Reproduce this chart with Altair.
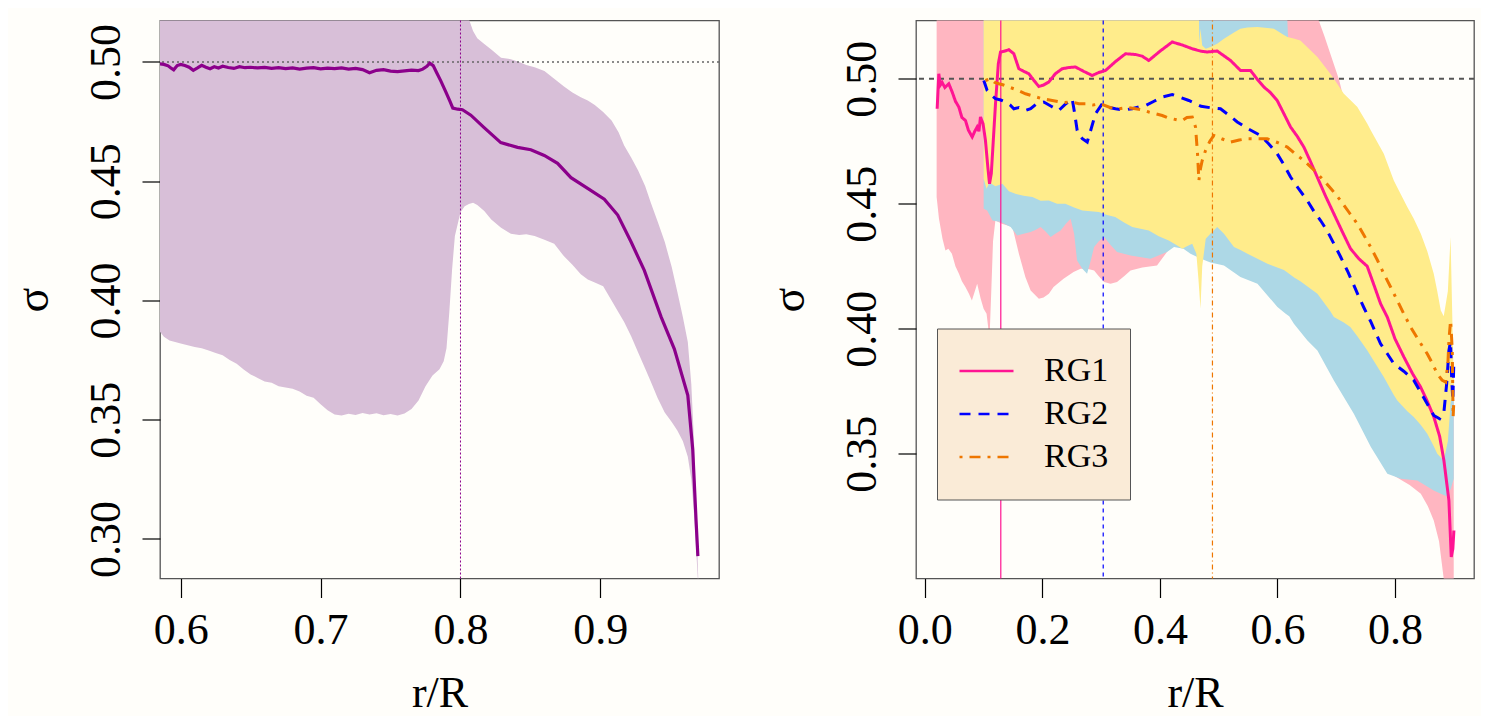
import altair as alt
import pandas as pd

FONT = "Liberation Serif"

# ---------------- left panel data ----------------
L_LINE = [
    (0.585, 0.4992), (0.588, 0.4990), (0.591, 0.4984), (0.593, 0.4975), (0.595, 0.4967),
    (0.5975, 0.4985), (0.600, 0.4990), (0.603, 0.4985), (0.606, 0.4978), (0.609, 0.4965),
    (0.612, 0.4975),
    (0.615, 0.4986), (0.618, 0.4978), (0.621, 0.4972), (0.624, 0.4980), (0.627, 0.4975),
    (0.630, 0.4982), (0.634, 0.4977), (0.638, 0.4973), (0.642, 0.4980), (0.646, 0.4976),
    (0.650, 0.4978), (0.655, 0.4975), (0.660, 0.4977), (0.665, 0.4973), (0.670, 0.4976),
    (0.675, 0.4972), (0.680, 0.4975), (0.685, 0.4970), (0.690, 0.4974), (0.695, 0.4976),
    (0.700, 0.4971), (0.705, 0.4974), (0.710, 0.4972), (0.715, 0.4975), (0.720, 0.4970),
    (0.725, 0.4973), (0.730, 0.4968), (0.735, 0.4955), (0.740, 0.4965), (0.745, 0.4968),
    (0.750, 0.4962), (0.755, 0.4960), (0.760, 0.4963), (0.765, 0.4966), (0.770, 0.4964),
    (0.773, 0.4970), (0.776, 0.4982), (0.778, 0.4995), (0.7805, 0.4985), (0.783, 0.4955),
    (0.786, 0.4920), (0.7895, 0.4875), (0.7925, 0.4835), (0.7945, 0.4807), (0.798, 0.4802),
    (0.8014, 0.4800), (0.8074, 0.4777), (0.8169, 0.4725), (0.8288, 0.4662), (0.8408, 0.4642),
    (0.8503, 0.4632), (0.8599, 0.4608), (0.8694, 0.4575), (0.8790, 0.4515), (0.8909, 0.4470),
    (0.9028, 0.4425), (0.9124, 0.4358), (0.9219, 0.4246), (0.9314, 0.4126), (0.9434, 0.3931),
    (0.9529, 0.3796), (0.9625, 0.3602), (0.9660, 0.3377), (0.9684, 0.3078), (0.9697, 0.2928),
]

# (x, lower, upper)
L_BAND = [
    (0.585, 0.3870, 0.525), (0.588, 0.3848, 0.525), (0.592, 0.3832, 0.525), (0.596, 0.3826, 0.525),
    (0.600, 0.3820, 0.525), (0.605, 0.3812, 0.525), (0.610, 0.3805, 0.525), (0.615, 0.3800, 0.525),
    (0.620, 0.3790, 0.525), (0.625, 0.3780, 0.525), (0.630, 0.3770, 0.525), (0.635, 0.3750, 0.525),
    (0.640, 0.3735, 0.525), (0.645, 0.3710, 0.525), (0.650, 0.3690, 0.525), (0.655, 0.3675, 0.525),
    (0.660, 0.3660, 0.525), (0.665, 0.3655, 0.525), (0.670, 0.3640, 0.525), (0.675, 0.3635, 0.525),
    (0.680, 0.3630, 0.525), (0.685, 0.3618, 0.525), (0.690, 0.3600, 0.525), (0.695, 0.3592, 0.525),
    (0.700, 0.3565, 0.525), (0.705, 0.3540, 0.525), (0.710, 0.3522, 0.525), (0.715, 0.3518, 0.525),
    (0.720, 0.3525, 0.525), (0.725, 0.3520, 0.525), (0.730, 0.3528, 0.525), (0.735, 0.3522, 0.525),
    (0.740, 0.3527, 0.525), (0.745, 0.3519, 0.525), (0.750, 0.3524, 0.525), (0.755, 0.3518, 0.525),
    (0.760, 0.3526, 0.525), (0.765, 0.3545, 0.525), (0.770, 0.3580, 0.525), (0.775, 0.3640, 0.525),
    (0.780, 0.3685, 0.525), (0.785, 0.3712, 0.525), (0.788, 0.3745, 0.525), (0.790, 0.3800, 0.525),
    (0.792, 0.3950, 0.525), (0.794, 0.4130, 0.525), (0.796, 0.4270, 0.525), (0.800, 0.4370, 0.525),
    (0.803, 0.4395, 0.525), (0.806, 0.4405, 0.5180), (0.809, 0.4410, 0.5130), (0.812, 0.4400, 0.5100),
    (0.817, 0.4375, 0.5075), (0.822, 0.4340, 0.5052), (0.829, 0.4305, 0.5018), (0.836, 0.4280, 0.5012),
    (0.842, 0.4275, 0.5000), (0.847, 0.4278, 0.4987), (0.853, 0.4270, 0.4978), (0.860, 0.4255, 0.4962),
    (0.867, 0.4238, 0.4930), (0.874, 0.4185, 0.4897), (0.880, 0.4150, 0.4872), (0.886, 0.4110, 0.4852),
    (0.891, 0.4088, 0.4838), (0.896, 0.4075, 0.4820), (0.902, 0.4060, 0.4790), (0.908, 0.4000, 0.4755),
    (0.913, 0.3950, 0.4705), (0.917, 0.3910, 0.4650), (0.922, 0.3850, 0.4600), (0.927, 0.3782, 0.4545),
    (0.932, 0.3715, 0.4480), (0.936, 0.3660, 0.4411), (0.941, 0.3590, 0.4330), (0.946, 0.3530, 0.4246),
    (0.951, 0.3490, 0.4140), (0.955, 0.3455, 0.4036), (0.959, 0.3410, 0.3930), (0.9625, 0.3345, 0.3826),
    (0.965, 0.3250, 0.3650), (0.967, 0.3100, 0.3400), (0.9685, 0.2950, 0.3100), (0.970, 0.2800, 0.2830),
]
L_REF_X = [0.8]
REF_Y = [0.5]

# ---------------- right panel data ----------------
SERIES = ["RG1", "RG2", "RG3"]
LINE_COLORS = ["#FF1493", "#0000FF", "#EE7600"]
BAND_COLORS = ["#FFB6C1", "#ADD8E6", "#FFEC8B"]
DASHES = [[1, 0], [11, 8], [3, 7, 11, 7]]
R_REF_X = [0.1292, 0.3035, 0.4894]
REF_DASHES = [[1, 0], [4, 4], [1, 3, 5, 3]]

RG1_LINE = [
    (0.0209, 0.4880), (0.0237, 0.5020), (0.0265, 0.4975), (0.0294, 0.4985), (0.0340, 0.4965),
    (0.0407, 0.4980), (0.0465, 0.4947), (0.0520, 0.4910), (0.0578, 0.4887), (0.0630, 0.4845),
    (0.0691, 0.4833), (0.0740, 0.4795), (0.0805, 0.4767), (0.0850, 0.4790), (0.0890, 0.4807),
    (0.0920, 0.4790), (0.0946, 0.4847), (0.0990, 0.4820), (0.1031, 0.4753), (0.1070, 0.4650),
    (0.1100, 0.4580), (0.1130, 0.4620), (0.1156, 0.4720), (0.1202, 0.4900), (0.1250, 0.5060),
    (0.1287, 0.5107), (0.1350, 0.5110), (0.1429, 0.5116), (0.1514, 0.5100), (0.1599, 0.5040),
    (0.1680, 0.5030), (0.1769, 0.5020), (0.1850, 0.4995), (0.1939, 0.4969), (0.2020, 0.4975),
    (0.2109, 0.4987), (0.2220, 0.5020), (0.2337, 0.5040), (0.2450, 0.5045), (0.2563, 0.5047),
    (0.2700, 0.5030), (0.2848, 0.5013), (0.2960, 0.5025), (0.3074, 0.5033), (0.3250, 0.5070),
    (0.3415, 0.5100), (0.3585, 0.5097), (0.3700, 0.5090), (0.3811, 0.5073), (0.4000, 0.5110),
    (0.4209, 0.5147), (0.4380, 0.5135), (0.4550, 0.5120), (0.4700, 0.5110), (0.4805, 0.5107),
    (0.4975, 0.5111), (0.5100, 0.5090), (0.5202, 0.5073), (0.5372, 0.5033), (0.5542, 0.5033),
    (0.5650, 0.5000), (0.5769, 0.4967), (0.5880, 0.4945), (0.5996, 0.4913), (0.6110, 0.4860),
    (0.6223, 0.4807), (0.6336, 0.4770), (0.6449, 0.4727), (0.6560, 0.4670), (0.6677, 0.4607),
    (0.6820, 0.4530), (0.6960, 0.4460), (0.7100, 0.4390), (0.7244, 0.4320), (0.7386, 0.4280),
    (0.7528, 0.4250), (0.7650, 0.4170), (0.7755, 0.4100), (0.7869, 0.4047), (0.8000, 0.3960),
    (0.8152, 0.3887), (0.8300, 0.3820), (0.8436, 0.3767), (0.8550, 0.3710), (0.8662, 0.3647),
    (0.8760, 0.3570), (0.8833, 0.3473), (0.8918, 0.3313), (0.8958, 0.3087), (0.8985, 0.3120),
    (0.9003, 0.3193),
]

RG2_LINE = [
    (0.1003, 0.4993), (0.1060, 0.4953), (0.1130, 0.4935), (0.1202, 0.4920), (0.1290, 0.4915),
    (0.1372, 0.4907), (0.1450, 0.4895), (0.1514, 0.4880), (0.1600, 0.4885), (0.1712, 0.4873),
    (0.1800, 0.4880), (0.1900, 0.4900), (0.2024, 0.4907), (0.2150, 0.4890), (0.2279, 0.4873),
    (0.2400, 0.4900), (0.2507, 0.4920), (0.2550, 0.4860), (0.2592, 0.4793), (0.2680, 0.4760),
    (0.2763, 0.4747), (0.2830, 0.4800), (0.2904, 0.4860), (0.3018, 0.4900), (0.3130, 0.4885),
    (0.3244, 0.4880), (0.3380, 0.4875), (0.3529, 0.4880), (0.3650, 0.4888), (0.3755, 0.4893),
    (0.3900, 0.4910), (0.4039, 0.4927), (0.4209, 0.4937), (0.4350, 0.4925), (0.4492, 0.4913),
    (0.4700, 0.4890), (0.4860, 0.4884), (0.5031, 0.4880), (0.5170, 0.4855), (0.5316, 0.4827),
    (0.5500, 0.4800), (0.5712, 0.4773), (0.5850, 0.4740), (0.5996, 0.4700), (0.6100, 0.4660),
    (0.6223, 0.4607), (0.6360, 0.4560), (0.6507, 0.4513), (0.6620, 0.4470), (0.6734, 0.4433),
    (0.6850, 0.4390), (0.6960, 0.4340), (0.7070, 0.4290), (0.7188, 0.4233), (0.7290, 0.4180),
    (0.7386, 0.4127), (0.7480, 0.4080), (0.7585, 0.4030), (0.7660, 0.3990), (0.7755, 0.3940),
    (0.7870, 0.3900), (0.7981, 0.3860), (0.8150, 0.3830), (0.8322, 0.3793), (0.8500, 0.3720),
    (0.8662, 0.3653), (0.8760, 0.3640), (0.8833, 0.3667), (0.8880, 0.3780), (0.8918, 0.3913),
    (0.8946, 0.3950), (0.8965, 0.3800), (0.8985, 0.3713), (0.9000, 0.3850),
]

RG3_LINE = [
    (0.1031, 0.4993), (0.1117, 0.5000), (0.1190, 0.4985), (0.1259, 0.4980), (0.1340, 0.4975),
    (0.1429, 0.4967), (0.1570, 0.4955), (0.1712, 0.4940), (0.1850, 0.4930), (0.1997, 0.4920),
    (0.2167, 0.4913), (0.2340, 0.4905), (0.2507, 0.4907), (0.2620, 0.4900), (0.2734, 0.4900),
    (0.2860, 0.4895), (0.2989, 0.4900), (0.3150, 0.4885), (0.3300, 0.4880), (0.3450, 0.4885),
    (0.3585, 0.4880), (0.3700, 0.4875), (0.3811, 0.4867), (0.3930, 0.4860), (0.4039, 0.4853),
    (0.4120, 0.4845), (0.4209, 0.4840), (0.4300, 0.4835), (0.4380, 0.4833), (0.4460, 0.4845),
    (0.4550, 0.4847), (0.4606, 0.4807), (0.4640, 0.4700), (0.4663, 0.4593), (0.4690, 0.4640),
    (0.4720, 0.4673), (0.4776, 0.4713), (0.4850, 0.4750), (0.4918, 0.4773), (0.5050, 0.4760),
    (0.5202, 0.4747), (0.5350, 0.4755), (0.5486, 0.4760), (0.5650, 0.4760), (0.5826, 0.4760),
    (0.6000, 0.4745), (0.6167, 0.4727), (0.6300, 0.4700), (0.6449, 0.4673), (0.6620, 0.4635),
    (0.6789, 0.4593), (0.6930, 0.4555), (0.7074, 0.4513), (0.7220, 0.4465), (0.7358, 0.4420),
    (0.7470, 0.4375), (0.7585, 0.4327), (0.7700, 0.4275), (0.7811, 0.4220), (0.7930, 0.4165),
    (0.8039, 0.4113), (0.8150, 0.4060), (0.8266, 0.4007), (0.8400, 0.3955), (0.8549, 0.3900),
    (0.8640, 0.3860), (0.8720, 0.3820), (0.8800, 0.3795), (0.8862, 0.3787), (0.8900, 0.3860),
    (0.8918, 0.3953), (0.8946, 0.4033), (0.8960, 0.3980), (0.8975, 0.3913), (0.8990, 0.3647),
    (0.9000, 0.3700),
]

# (x, lower, upper)
RG1_BAND = [
    (0.020, 0.4527, 0.54), (0.024, 0.4440, 0.54), (0.027, 0.4400, 0.54), (0.030, 0.4360, 0.54),
    (0.035, 0.4313, 0.54), (0.040, 0.4320, 0.54), (0.046, 0.4300, 0.54), (0.052, 0.4250, 0.54),
    (0.058, 0.4220, 0.54), (0.063, 0.4190, 0.54), (0.069, 0.4167, 0.54), (0.075, 0.4140, 0.54),
    (0.080, 0.4113, 0.54), (0.085, 0.4150, 0.54), (0.089, 0.4180, 0.54), (0.095, 0.4120, 0.54),
    (0.100, 0.4080, 0.54), (0.105, 0.4060, 0.54), (0.110, 0.3960, 0.54), (0.113, 0.4150, 0.54),
    (0.116, 0.4350, 0.54), (0.120, 0.4433, 0.54), (0.131, 0.4420, 0.54), (0.149, 0.4407, 0.54),
    (0.160, 0.4300, 0.54), (0.171, 0.4207, 0.54), (0.180, 0.4153, 0.54), (0.194, 0.4120, 0.54),
    (0.202, 0.4125, 0.54), (0.211, 0.4140, 0.54), (0.219, 0.4167, 0.54), (0.236, 0.4200, 0.54),
    (0.253, 0.4227, 0.54), (0.265, 0.4240, 0.54), (0.276, 0.4240, 0.54), (0.288, 0.4233, 0.54),
    (0.296, 0.4210, 0.54), (0.305, 0.4187, 0.54), (0.316, 0.4180, 0.54), (0.327, 0.4187, 0.54),
    (0.339, 0.4210, 0.54), (0.350, 0.4233, 0.54), (0.370, 0.4245, 0.54), (0.395, 0.4253, 0.54),
    (0.412, 0.4307, 0.54), (0.430, 0.4360, 0.54), (0.450, 0.4400, 0.54), (0.500, 0.4420, 0.54),
    (0.550, 0.4380, 0.54), (0.600, 0.4250, 0.54), (0.614, 0.4200, 0.54), (0.650, 0.4050, 0.53),
    (0.670, 0.3950, 0.5235), (0.680, 0.3900, 0.5170), (0.690, 0.3880, 0.5100), (0.705, 0.3850, 0.4995),
    (0.720, 0.3770, 0.4850), (0.750, 0.3620, 0.4700), (0.780, 0.3490, 0.4550), (0.800, 0.3410, 0.4450),
    (0.812, 0.3393, 0.4380), (0.825, 0.3375, 0.4300), (0.844, 0.3340, 0.4200), (0.856, 0.3290, 0.4120),
    (0.866, 0.3233, 0.4050), (0.875, 0.3150, 0.3980), (0.883, 0.3000, 0.3920), (0.890, 0.2900, 0.3900),
    (0.900, 0.2900, 0.3800),
]

RG2_BAND = [
    (0.100, 0.4480, 0.54), (0.106, 0.4473, 0.54), (0.115, 0.4433, 0.54), (0.129, 0.4427, 0.54),
    (0.146, 0.4407, 0.54), (0.157, 0.4373, 0.54), (0.168, 0.4380, 0.54), (0.180, 0.4387, 0.54),
    (0.188, 0.4395, 0.54), (0.197, 0.4407, 0.54), (0.205, 0.4390, 0.54), (0.214, 0.4367, 0.54),
    (0.222, 0.4380, 0.54), (0.231, 0.4393, 0.54), (0.240, 0.4420, 0.54), (0.248, 0.4440, 0.54),
    (0.254, 0.4380, 0.54), (0.259, 0.4273, 0.54), (0.268, 0.4240, 0.54), (0.276, 0.4220, 0.54),
    (0.282, 0.4270, 0.54), (0.288, 0.4327, 0.54), (0.296, 0.4350, 0.54), (0.305, 0.4367, 0.54),
    (0.316, 0.4335, 0.54), (0.327, 0.4307, 0.54), (0.350, 0.4293, 0.54), (0.384, 0.4280, 0.54),
    (0.412, 0.4307, 0.54), (0.424, 0.4327, 0.54), (0.440, 0.4320, 0.54), (0.452, 0.4300, 0.54),
    (0.470, 0.4280, 0.54), (0.486, 0.4265, 0.54), (0.509, 0.4253, 0.54), (0.537, 0.4207, 0.54),
    (0.566, 0.4180, 0.54), (0.600, 0.4087, 0.54), (0.614, 0.4060, 0.54), (0.620, 0.4050, 0.5050),
    (0.628, 0.4020, 0.5030), (0.651, 0.3953, 0.4950), (0.668, 0.3913, 0.4900), (0.696, 0.3793, 0.4800),
    (0.730, 0.3660, 0.4680), (0.759, 0.3527, 0.4600), (0.787, 0.3420, 0.4500), (0.810, 0.3400, 0.4400),
    (0.838, 0.3393, 0.4250), (0.866, 0.3353, 0.4100), (0.878, 0.3340, 0.4000), (0.888, 0.3330, 0.3950),
    (0.895, 0.3360, 0.3900), (0.900, 0.3400, 0.3750),
]

RG3_BAND = [
    (0.100, 0.4600, 0.54), (0.105, 0.4560, 0.54), (0.110, 0.4585, 0.54), (0.120, 0.4570, 0.54),
    (0.132, 0.4580, 0.54), (0.143, 0.4550, 0.54), (0.154, 0.4540, 0.54), (0.168, 0.4532, 0.54),
    (0.183, 0.4527, 0.54), (0.197, 0.4512, 0.54), (0.211, 0.4513, 0.54), (0.225, 0.4500, 0.54),
    (0.239, 0.4500, 0.54), (0.254, 0.4485, 0.54), (0.268, 0.4473, 0.54), (0.282, 0.4470, 0.54),
    (0.296, 0.4467, 0.54), (0.310, 0.4455, 0.54), (0.324, 0.4447, 0.54), (0.339, 0.4425, 0.54),
    (0.353, 0.4407, 0.54), (0.367, 0.4400, 0.54), (0.381, 0.4393, 0.54), (0.398, 0.4370, 0.54),
    (0.415, 0.4353, 0.54), (0.428, 0.4335, 0.54), (0.438, 0.4320, 0.54), (0.446, 0.4330, 0.54),
    (0.455, 0.4340, 0.54), (0.462, 0.4300, 0.54), (0.4655, 0.4200, 0.54), (0.467, 0.4150, 0.5140),
    (0.469, 0.4080, 0.5200), (0.472, 0.4250, 0.5133), (0.478, 0.4360, 0.5120), (0.486, 0.4380, 0.5127),
    (0.4975, 0.4407, 0.5140), (0.509, 0.4380, 0.5160), (0.526, 0.4327, 0.5185), (0.537, 0.4315, 0.5200),
    (0.549, 0.4300, 0.5205), (0.566, 0.4280, 0.5207), (0.583, 0.4260, 0.5203), (0.594, 0.4250, 0.5200),
    (0.611, 0.4235, 0.5175), (0.617, 0.4225, 0.5167), (0.629, 0.4204, 0.5160), (0.639, 0.4190, 0.5153),
    (0.668, 0.4140, 0.5087), (0.690, 0.4070, 0.5020), (0.696, 0.4047, 0.5000), (0.713, 0.4025, 0.4940),
    (0.724, 0.4007, 0.4915), (0.736, 0.3970, 0.4887), (0.753, 0.3913, 0.4820), (0.759, 0.3890, 0.4793),
    (0.781, 0.3807, 0.4700), (0.798, 0.3735, 0.4593), (0.804, 0.3713, 0.4565), (0.821, 0.3670, 0.4487),
    (0.832, 0.3647, 0.4440), (0.844, 0.3615, 0.4380), (0.855, 0.3580, 0.4310), (0.866, 0.3530, 0.4220),
    (0.872, 0.3500, 0.4150), (0.878, 0.3485, 0.4073), (0.883, 0.3473, 0.4050), (0.890, 0.3550, 0.4150),
    (0.8946, 0.3700, 0.4367), (0.898, 0.3750, 0.4000), (0.900, 0.3750, 0.3800),
]

LEFT_X_TICKS = [0.6, 0.7, 0.8, 0.9]
LEFT_Y_TICKS = [0.30, 0.35, 0.40, 0.45, 0.50]
RIGHT_X_TICKS = [0.0, 0.2, 0.4, 0.6, 0.8]
RIGHT_Y_TICKS = [0.35, 0.40, 0.45, 0.50]


def x_axis(vals):
    return alt.Axis(
        values=vals, format=".1f", title="r/R", grid=False, domain=False,
        tickSize=19, tickColor="black", tickWidth=1.2,
        labelFont=FONT, labelFontSize=44, labelColor="black", labelPadding=46,
        labelBaseline="alphabetic", labelFlush=False, labelOverlap=False,
        titleFont=FONT, titleFontSize=44, titleFontWeight="normal", titleColor="black",
        titleY=128, titleBaseline="alphabetic",
    )


def y_axis(vals):
    return alt.Axis(
        values=vals, format=".2f", title="σ", grid=False, domain=False,
        tickSize=18, tickColor="black", tickWidth=1.2,
        labelFont=FONT, labelFontSize=44, labelColor="black", labelPadding=23,
        labelAngle=270, labelAlign="center", labelBaseline="alphabetic",
        labelFlush=False, labelOverlap=False,
        titleFont=FONT, titleFontSize=46, titleFontWeight="normal", titleColor="black",
        titleAngle=270, titleX=-113, titleY=279, titleAlign="center", titleBaseline="alphabetic",
    )


# ---------------- left chart ----------------
lx = alt.X("x:Q", scale=alt.Scale(domain=[0.5852, 0.9848], nice=False, zero=False), axis=x_axis(LEFT_X_TICKS))
ly = alt.Y("y:Q", scale=alt.Scale(domain=[0.2834, 0.5174], nice=False, zero=False), axis=y_axis(LEFT_Y_TICKS))

df_lband = pd.DataFrame(L_BAND, columns=["x", "y2", "y"])
df_lline = pd.DataFrame(L_LINE, columns=["x", "y"])

left_band = alt.Chart(df_lband).mark_area(color="#D8BFD8", clip=True).encode(x=lx, y=ly, y2=alt.Y2("y2:Q"))
left_line = alt.Chart(df_lline).mark_line(color="#8B008B", strokeWidth=3.2, clip=True).encode(x=lx, y=ly)
left_h = alt.Chart(pd.DataFrame({"y": REF_Y})).mark_rule(color="#666666", strokeWidth=1.4, strokeDash=[2, 3]).encode(y=ly)
left_v = alt.Chart(pd.DataFrame({"x": L_REF_X})).mark_rule(color="#8B008B", strokeWidth=1, strokeDash=[2, 2]).encode(x=lx)

left = alt.layer(left_band, left_h, left_v, left_line).properties(width=559, height=558)

# ---------------- right chart ----------------
rx = alt.X("x:Q", scale=alt.Scale(domain=[-0.0151, 0.9345], nice=False, zero=False), axis=x_axis(RIGHT_X_TICKS))
ry = alt.Y("y:Q", scale=alt.Scale(domain=[0.3001, 0.5233], nice=False, zero=False), axis=y_axis(RIGHT_Y_TICKS))

bands = []
for name, band, col in zip(SERIES, [RG1_BAND, RG2_BAND, RG3_BAND], BAND_COLORS):
    dfb = pd.DataFrame(band, columns=["x", "y2", "y"])
    bands.append(alt.Chart(dfb).mark_area(color=col, clip=True).encode(x=rx, y=ry, y2=alt.Y2("y2:Q")))

line_frames = []
for name, pts in zip(SERIES, [RG1_LINE, RG2_LINE, RG3_LINE]):
    d = pd.DataFrame(pts, columns=["x", "y"])
    d["series"] = name
    line_frames.append(d)
df_lines = pd.concat(line_frames, ignore_index=True)

SPACING = 44
# legend is placed in the top-level frame (origin = left plot's top-left corner)
leg = alt.Legend(
    title=None, orient="none", legendX=777, legendY=308,
    fillColor="#FAEBD7", strokeColor="#555555", padding=21,
    symbolType="stroke", symbolSize=54 * 54, symbolStrokeWidth=2.5,
    clipHeight=43, rowPadding=0, symbolOffset=0, labelOffset=29,
    labelFont=FONT, labelFontSize=34, labelColor="black",
)

lines = alt.Chart(df_lines).mark_line(strokeWidth=3, clip=True).encode(
    x=rx, y=ry,
    color=alt.Color("series:N", scale=alt.Scale(domain=SERIES, range=LINE_COLORS), legend=leg),
    strokeDash=alt.StrokeDash("series:N", scale=alt.Scale(domain=SERIES, range=DASHES), legend=leg),
)

refs = []
for xv, col, dash in zip(R_REF_X, LINE_COLORS, REF_DASHES):
    refs.append(alt.Chart(pd.DataFrame({"x": [xv]})).mark_rule(color=col, strokeWidth=1.2, strokeDash=dash).encode(x=rx))

right_h = alt.Chart(pd.DataFrame({"y": REF_Y})).mark_rule(color="#555555", strokeWidth=1.8, strokeDash=[5, 5]).encode(y=ry)

right = alt.layer(*bands, right_h, *refs, lines).properties(width=558, height=558)

chart = alt.hconcat(left, right, spacing=SPACING).properties(
    background="#FFFEFA",
    padding={"left": 1, "top": 10.5, "right": 5, "bottom": 0},
).configure_view(stroke="#555555", strokeWidth=1.3)

chart.save("out.html", embed_options={"renderer": "svg", "actions": False})
